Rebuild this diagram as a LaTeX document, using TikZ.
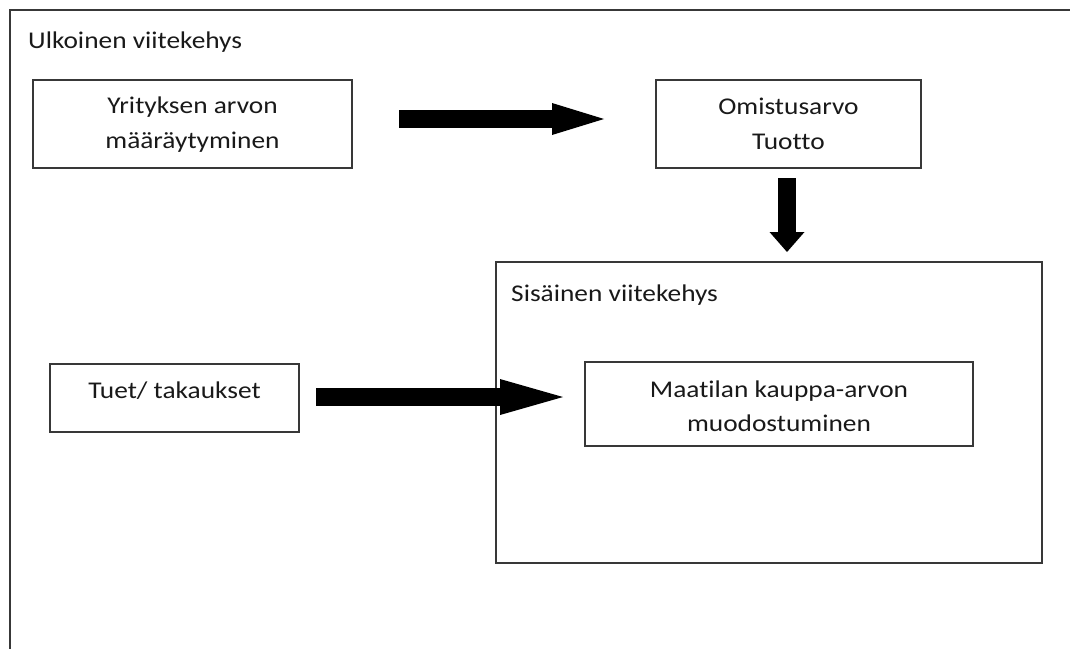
\documentclass[tikz,border=0pt]{standalone}
\usepackage{fontspec}
\setmainfont[Ligatures=NoCommon,FakeStretch=1.14]{Carlito}
\usetikzlibrary{arrows.meta}
\begin{document}
\begin{tikzpicture}[x=1pt,y=-1pt,
  frame/.style={draw=black!78,line width=1.6pt},
  box/.style={frame,rectangle,inner sep=0pt,align=center,
    font=\fontsize{24}{35}\selectfont,text=black!90},
  lbl/.style={inner sep=0pt,anchor=base west,font=\fontsize{24}{35}\selectfont,text=black!90},
  bigarrow/.style={line width=18pt,black}]
\useasboundingbox (0,0) rectangle (1070,648);
\clip (0,0) rectangle (1070,648);
% outer frame (runs past the page on the right and bottom)
\draw[frame] (10,10) rectangle (1100,700);
\node[lbl] (outerlbl) at (28,48) {Ulkoinen viitekehys};
% inner frame
\node[box,minimum width=546pt,minimum height=301pt] (inner) at (769,412.5) {};
\node[lbl] (innerlbl) at (511,301) {Sisäinen viitekehys};
% boxes (text height/depth place the last baseline inside each box)
\node[box,minimum width=319pt,minimum height=88pt,text height=56pt,text depth=8pt]
  (yritys) at (192.5,124) {Yrityksen arvon\\määräytyminen};
\node[box,minimum width=265pt,minimum height=88pt,text height=58pt,text depth=8pt]
  (omistus) at (788.5,124) {Omistusarvo\\Tuotto};
\node[box,minimum width=249pt,minimum height=68pt,text height=20pt,text depth=20pt]
  (tuet) at (174.5,398) {Tuet/ takaukset};
\node[box,minimum width=388pt,minimum height=84pt,text height=62pt,text depth=8pt,
  font=\fontsize{24}{34}\selectfont]
  (maatila) at (779,404) {Maatilan kauppa-arvon\\muodostuminen};
% block arrows
\coordinate (a1s) at (399,119);
\coordinate (a1e) at (604,119);
\coordinate (a2s) at (787,178);
\coordinate (a2e) at (787,252);
\coordinate (a3s) at (316,397);
\coordinate (a3e) at (563,397);
\draw[bigarrow,-{Triangle[length=52pt,width=32pt,line width=0pt]}] (a1s) -- (a1e);
\draw[bigarrow,-{Triangle[length=20pt,width=35pt,line width=0pt]}] (a2s) -- (a2e);
\draw[bigarrow,-{Triangle[length=63pt,width=36pt,line width=0pt]}] (a3s) -- (a3e);
\end{tikzpicture}
\end{document}
